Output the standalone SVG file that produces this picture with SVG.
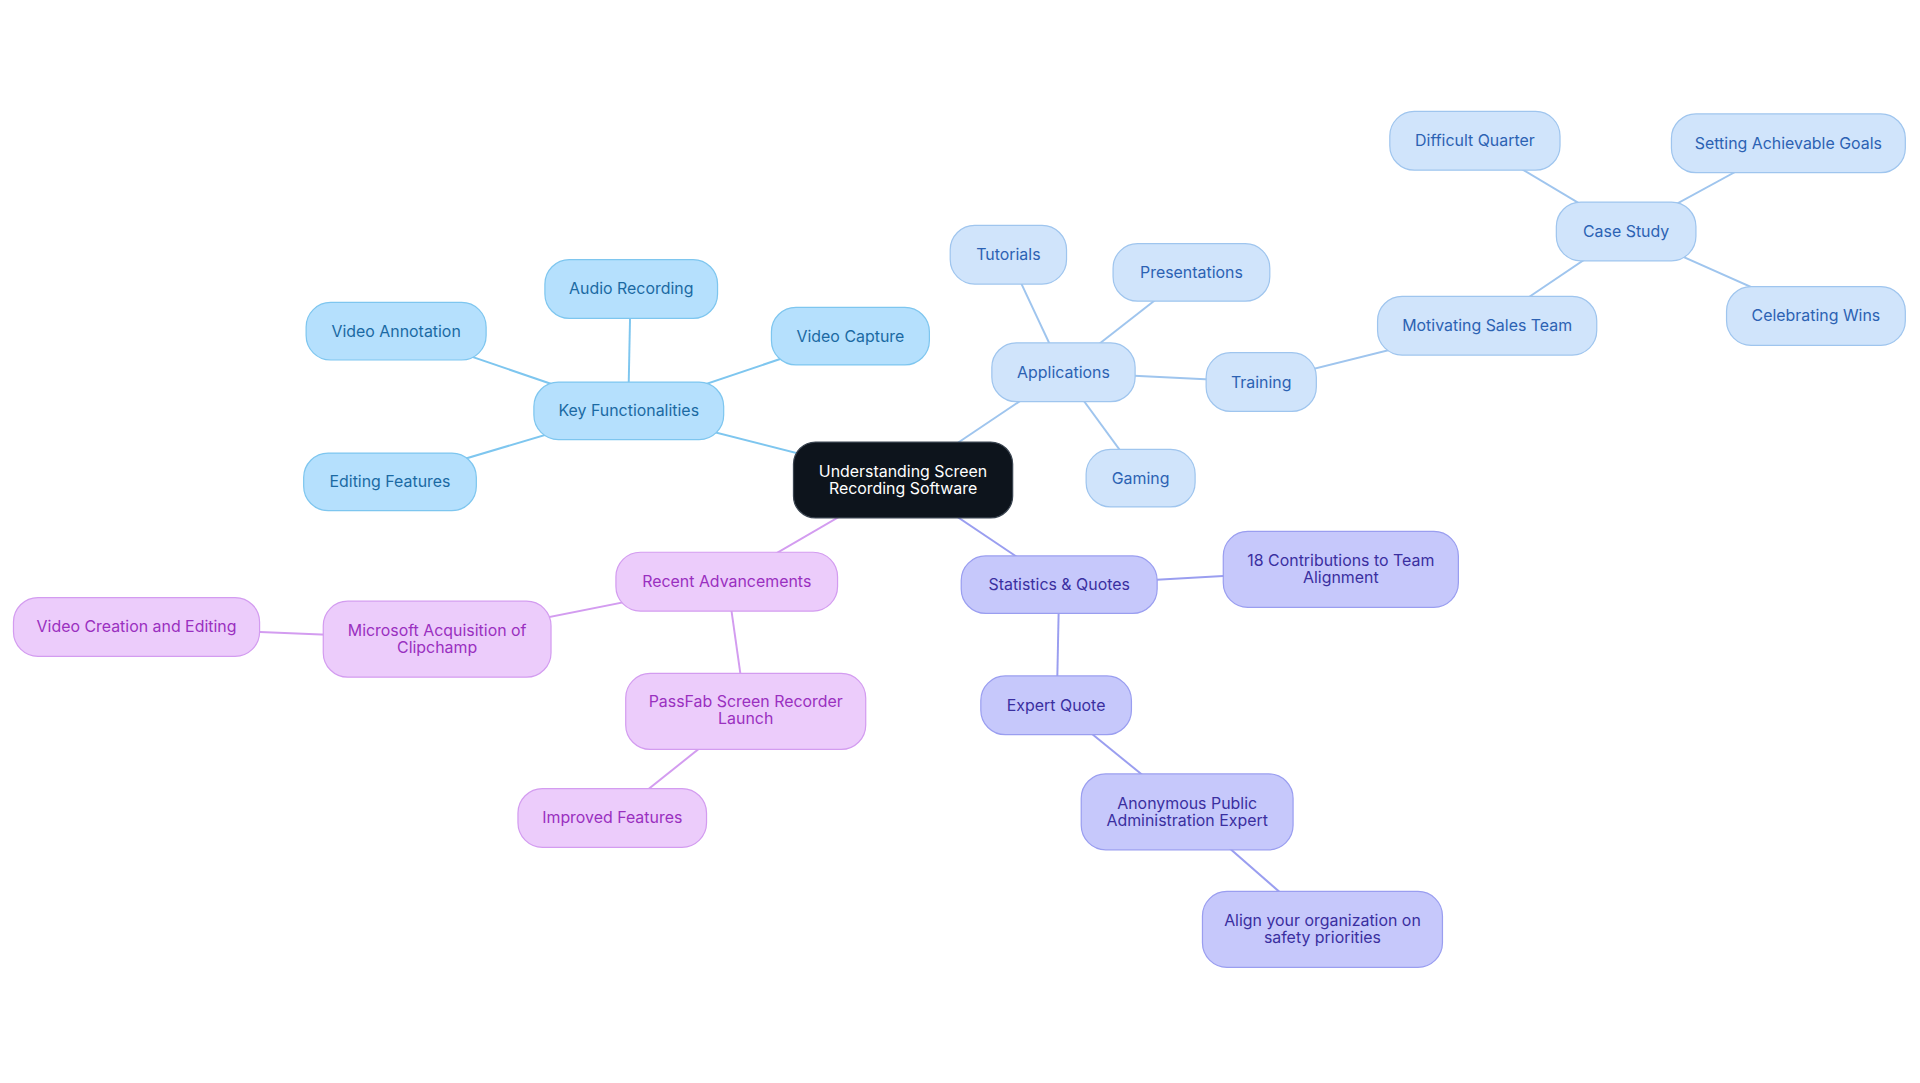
<svg xmlns="http://www.w3.org/2000/svg" width="1920" height="1083" viewBox="0 0 1920 1083">
<style>
text{font-family:Inter,"Noto Sans",sans-serif;font-size:13px;text-anchor:middle;dominant-baseline:central}
.c rect{fill:#0d141c;stroke:#3a4450}.c text{fill:#fff}
.b rect{fill:#b5e0fd;stroke:#7ec6ef}.b text{fill:#1b6aa3}
.l rect{fill:#d0e4fb;stroke:#9fc5ee}.l text{fill:#2c62b3}
.p rect{fill:#c6c8fb;stroke:#9a9ef0}.p text{fill:#3a2fa0}
.k rect{fill:#ecccfb;stroke:#d39cf0}.k text{fill:#9a30c0}
.e line{stroke-width:1.6}
</style>
<rect width="1920" height="1083" fill="#fff"/>
<g transform="scale(1.2245)">
<g id="connectors" class="e">
<line x1="737" y1="392" x2="513" y2="335" stroke="#7ec6ef"/>
<line x1="513" y1="335" x2="515" y2="236" stroke="#7ec6ef"/>
<line x1="513" y1="335" x2="323" y2="270" stroke="#7ec6ef"/>
<line x1="513" y1="335" x2="694" y2="274" stroke="#7ec6ef"/>
<line x1="513" y1="335" x2="318" y2="393" stroke="#7ec6ef"/>
<line x1="737" y1="392" x2="868" y2="304" stroke="#9fc5ee"/>
<line x1="868" y1="304" x2="823" y2="208" stroke="#9fc5ee"/>
<line x1="868" y1="304" x2="973" y2="222" stroke="#9fc5ee"/>
<line x1="868" y1="304" x2="931" y2="390" stroke="#9fc5ee"/>
<line x1="868" y1="304" x2="1030" y2="312" stroke="#9fc5ee"/>
<line x1="1030" y1="312" x2="1214" y2="266" stroke="#9fc5ee"/>
<line x1="1214" y1="266" x2="1328" y2="189" stroke="#9fc5ee"/>
<line x1="1328" y1="189" x2="1204" y2="115" stroke="#9fc5ee"/>
<line x1="1328" y1="189" x2="1460" y2="117" stroke="#9fc5ee"/>
<line x1="1328" y1="189" x2="1483" y2="258" stroke="#9fc5ee"/>
<line x1="737" y1="392" x2="865" y2="478" stroke="#9a9ef0"/>
<line x1="865" y1="478" x2="1095" y2="465" stroke="#9a9ef0"/>
<line x1="865" y1="478" x2="863" y2="576" stroke="#9a9ef0"/>
<line x1="863" y1="576" x2="970" y2="663" stroke="#9a9ef0"/>
<line x1="970" y1="663" x2="1080" y2="759" stroke="#9a9ef0"/>
<line x1="737" y1="392" x2="594" y2="475" stroke="#d39cf0"/>
<line x1="594" y1="475" x2="357" y2="522" stroke="#d39cf0"/>
<line x1="357" y1="522" x2="112" y2="512" stroke="#d39cf0"/>
<line x1="594" y1="475" x2="609" y2="581" stroke="#d39cf0"/>
<line x1="609" y1="581" x2="500" y2="668" stroke="#d39cf0"/>
</g>
<g id="center" class="c"><rect x="648" y="361" width="179" height="62" rx="18"/><text x="737.5" y="385">Understanding Screen</text><text x="737.5" y="399">Recording Software</text></g>
<g id="key" class="b"><rect x="436" y="312" width="155" height="47" rx="20"/><text x="513.5" y="335.5">Key Functionalities</text></g>
<g id="audio" class="b"><rect x="445" y="212" width="141" height="48" rx="20"/><text x="515.5" y="236">Audio Recording</text></g>
<g id="annot" class="b"><rect x="250" y="247" width="147" height="47" rx="20"/><text x="323.5" y="270.5">Video Annotation</text></g>
<g id="capture" class="b"><rect x="630" y="251" width="129" height="47" rx="20"/><text x="694.5" y="274.5">Video Capture</text></g>
<g id="editing" class="b"><rect x="248" y="370" width="141" height="47" rx="20"/><text x="318.5" y="393.5">Editing Features</text></g>
<g id="apps" class="l"><rect x="810" y="280" width="117" height="48" rx="20"/><text x="868.5" y="304">Applications</text></g>
<g id="tut" class="l"><rect x="776" y="184" width="95" height="48" rx="20"/><text x="823.5" y="208">Tutorials</text></g>
<g id="pres" class="l"><rect x="909" y="199" width="128" height="47" rx="20"/><text x="973" y="222.5">Presentations</text></g>
<g id="gaming" class="l"><rect x="887" y="367" width="89" height="47" rx="20"/><text x="931.5" y="390.5">Gaming</text></g>
<g id="training" class="l"><rect x="985" y="288" width="90" height="48" rx="20"/><text x="1030" y="312">Training</text></g>
<g id="motiv" class="l"><rect x="1125" y="242" width="179" height="48" rx="20"/><text x="1214.5" y="266">Motivating Sales Team</text></g>
<g id="case" class="l"><rect x="1271" y="165" width="114" height="48" rx="20"/><text x="1328" y="189">Case Study</text></g>
<g id="diff" class="l"><rect x="1135" y="91" width="139" height="48" rx="20"/><text x="1204.5" y="115">Difficult Quarter</text></g>
<g id="goals" class="l"><rect x="1365" y="93" width="191" height="48" rx="20"/><text x="1460.5" y="117">Setting Achievable Goals</text></g>
<g id="wins" class="l"><rect x="1410" y="234" width="146" height="48" rx="20"/><text x="1483" y="258">Celebrating Wins</text></g>
<g id="stats" class="p"><rect x="785" y="454" width="160" height="47" rx="20"/><text x="865" y="477.5">Statistics &amp; Quotes</text></g>
<g id="contrib" class="p"><rect x="999" y="434" width="192" height="62" rx="20"/><text x="1095" y="458">18 Contributions to Team</text><text x="1095" y="472">Alignment</text></g>
<g id="expert" class="p"><rect x="801" y="552" width="123" height="48" rx="20"/><text x="862.5" y="576">Expert Quote</text></g>
<g id="anon" class="p"><rect x="883" y="632" width="173" height="62" rx="20"/><text x="969.5" y="656">Anonymous Public</text><text x="969.5" y="670">Administration Expert</text></g>
<g id="align" class="p"><rect x="982" y="728" width="196" height="62" rx="20"/><text x="1080" y="752">Align your organization on</text><text x="1080" y="766">safety priorities</text></g>
<g id="recent" class="k"><rect x="503" y="451" width="181" height="48" rx="20"/><text x="593.5" y="475">Recent Advancements</text></g>
<g id="ms" class="k"><rect x="264" y="491" width="186" height="62" rx="20"/><text x="357" y="515">Microsoft Acquisition of</text><text x="357" y="529">Clipchamp</text></g>
<g id="vce" class="k"><rect x="11" y="488" width="201" height="48" rx="20"/><text x="111.5" y="512">Video Creation and Editing</text></g>
<g id="passfab" class="k"><rect x="511" y="550" width="196" height="62" rx="20"/><text x="609" y="573">PassFab Screen Recorder</text><text x="609" y="587">Launch</text></g>
<g id="improved" class="k"><rect x="423" y="644" width="154" height="48" rx="20"/><text x="500" y="668">Improved Features</text></g>
</g>
</svg>
